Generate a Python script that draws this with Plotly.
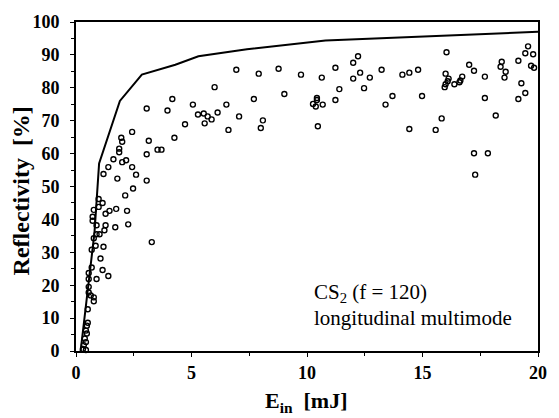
import plotly.graph_objects as go

# Measured reflectivity (open circles)
e_in = [
    7.91, 8.77, 9.74, 10.64, 11.23, 12.21, 12.0, 12.3, 12.0, 12.72, 11.4, 12.47,
    13.23, 14.13, 14.43, 14.81, 13.70, 14.98, 13.40, 11.23, 10.43, 10.43, 10.26,
    10.38, 10.68, 10.47, 9.02, 7.70, 8.09, 8.0, 14.43, 15.57, 15.83, 16.04, 16.0,
    16.13, 16.09, 16.0, 15.96, 16.38, 16.6, 16.72, 16.64, 17.02, 17.23, 17.70,
    17.70, 18.17, 17.23, 17.83, 17.28, 18.43, 18.38, 18.6, 18.55, 19.15, 19.57,
    19.45, 19.79, 19.7, 19.83, 19.28, 19.45, 19.15,
    6.94, 6.0, 4.17, 3.06, 3.96, 5.06, 6.51, 5.28, 5.53, 5.70, 5.87, 6.13, 5.57,
    4.72, 7.06, 6.6, 3.15, 4.26, 3.53, 3.70, 3.06,
    2.43, 1.96, 2.0, 1.87, 1.87, 2.17, 2.0, 1.62, 2.43, 1.40, 1.19, 2.6, 1.79,
    3.06, 2.47, 2.13, 0.98, 1.15, 0.98, 0.77, 1.28, 1.45, 1.74, 2.21, 1.70, 2.26,
    1.28, 1.23, 0.89, 0.72, 0.72, 1.02, 0.89, 0.77, 1.19, 0.68, 0.85, 3.28, 1.06,
    1.15, 1.40, 0.89, 0.68, 0.55, 0.55, 0.55, 0.55, 0.64, 0.77, 0.77, 0.51, 0.51,
    0.47, 0.43, 0.47, 0.38, 0.43, 0.34, 0.30, 0.43,
]
reflectivity = [
    84.3, 85.8, 84.0, 83.1, 86.1, 89.6, 87.6, 84.6, 82.8, 83.1, 79.6, 79.9,
    85.5, 84.0, 84.6, 85.5, 77.5, 77.5, 74.9, 76.3, 76.9, 76.3, 75.1,
    74.3, 74.9, 68.3, 78.1, 76.6, 70.1, 67.8, 67.5, 67.2, 70.7, 90.8, 84.3,
    82.8, 82.0, 81.1, 80.2, 81.1, 81.7, 83.4, 82.2, 87.0, 85.2, 83.4,
    76.9, 71.6, 60.1, 60.1, 53.6, 87.9, 86.4, 84.9, 83.1, 88.2, 92.6,
    90.5, 90.2, 86.7, 86.1, 81.4, 78.4, 76.6,
    85.5, 80.2, 76.6, 73.7, 73.1, 74.9, 74.9, 71.9, 72.2, 71.3, 70.4, 72.5, 69.2,
    68.9, 71.3, 67.2, 63.9, 64.8, 61.2, 61.2, 59.8,
    66.6, 64.8, 63.6, 61.5, 60.4, 58.0, 57.4, 58.3, 55.9, 55.9, 53.8, 53.6, 52.4,
    51.8, 49.4, 47.3, 46.2, 45.0, 43.8, 42.9, 41.7, 42.6, 43.2, 42.6, 37.6, 38.5,
    38.2, 36.7, 38.2, 39.6, 40.8, 35.5, 35.5, 34.3, 31.7, 30.8, 32.0, 33.1, 28.1,
    24.6, 22.8, 21.9, 25.4, 23.7, 21.9, 19.5, 17.8, 16.9, 16.3, 15.1, 12.7, 8.6,
    7.7, 6.2, 5.3, 3.8, 2.7, 1.8, 0.6, 0.3,
]

# Calculated reflectivity (solid line)
curve_e = [0.2, 0.8, 1.0, 1.9, 2.85, 4.3, 5.3, 7.4, 10.8, 20.0]
curve_r = [0.0, 36.0, 57.0, 76.0, 84.0, 87.0, 89.6, 91.7, 94.4, 97.0]

x_ticks = [0, 5, 10, 15, 20]
y_ticks = [0, 10, 20, 30, 40, 50, 60, 70, 80, 90, 100]

serif = "Liberation Serif"

fig = go.Figure()
fig.add_trace(go.Scatter(
    x=curve_e, y=curve_r, mode="lines",
    line=dict(color="black", width=2), showlegend=False,
))
fig.add_trace(go.Scatter(
    x=e_in, y=reflectivity, mode="markers",
    marker=dict(symbol="circle-open", size=5, color="black", line=dict(width=1.4)),
    showlegend=False, cliponaxis=False,
))

fig.update_layout(
    width=559, height=418,
    margin=dict(l=76, r=13, t=13, b=67),
    paper_bgcolor="white", plot_bgcolor="white",
    font=dict(family=serif, size=18, color="black", weight="bold"),
    xaxis=dict(
        range=[0, 20], tickmode="array", tickvals=x_ticks,
        ticktext=[str(v) for v in x_ticks],
        tickfont=dict(family=serif, size=18, color="black", weight="bold"),
        showline=True, linecolor="black", linewidth=2, mirror=True,
        showgrid=False, zeroline=False,
        ticks="outside", ticklen=4, tickwidth=1.2, tickcolor="black",
        minor=dict(dtick=2.5, ticks="outside", ticklen=3, tickcolor="black"),
    ),
    yaxis=dict(
        range=[0, 100], tickmode="array", tickvals=y_ticks,
        ticktext=[str(v) for v in y_ticks],
        tickfont=dict(family=serif, size=18, color="black", weight="bold"),
        showline=True, linecolor="black", linewidth=2, mirror=True,
        showgrid=False, zeroline=False,
        ticks="outside", ticklen=4, tickwidth=1.2, tickcolor="black",
        minor=dict(dtick=5, ticks="outside", ticklen=3, tickcolor="black"),
        ticklabelstandoff=7,
    ),
)

# Axis titles
fig.add_annotation(
    x=0.498, y=-0.154, xref="paper", yref="paper", xanchor="center", yanchor="middle",
    text="E<sub>in</sub>  [mJ]", showarrow=False,
    font=dict(family=serif, size=22, color="black", weight="bold"),
)
fig.add_annotation(
    x=-0.117, y=0.488, xref="paper", yref="paper", xanchor="center", yanchor="middle",
    text="Reflectivity  [%]", textangle=-90, showarrow=False,
    font=dict(family=serif, size=24, color="black", weight="bold"),
)

# Sample label
fig.add_annotation(
    x=10.2, y=17.5, xref="x", yref="y", xanchor="left", yanchor="middle",
    text="CS<sub>2</sub> (f = 120)", showarrow=False,
    font=dict(family=serif, size=21, color="black", weight="normal"),
)
fig.add_annotation(
    x=10.2, y=10.0, xref="x", yref="y", xanchor="left", yanchor="middle",
    text="longitudinal multimode", showarrow=False,
    font=dict(family=serif, size=21, color="black", weight="normal"),
)

fig.write_html("out.html")
